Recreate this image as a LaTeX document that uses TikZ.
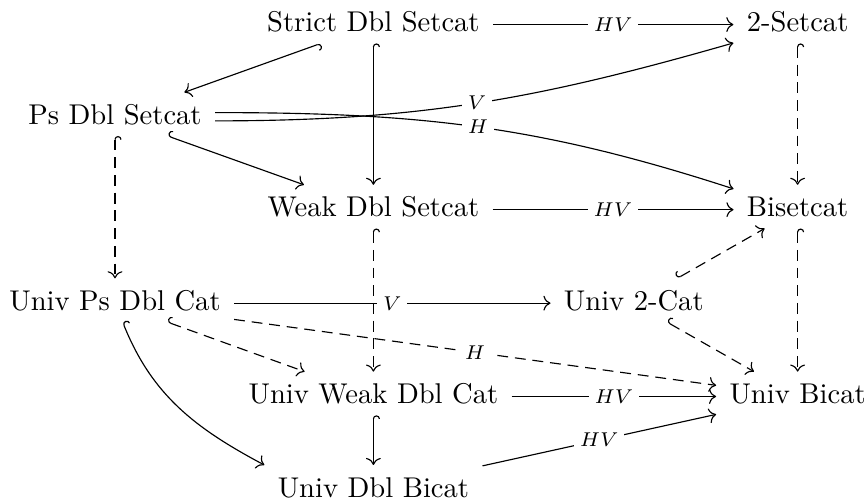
\documentclass[tikz,border=0pt]{standalone}
\usetikzlibrary{arrows.meta,cd}
\begin{document}
\begin{tikzpicture}[x=0.35pt,y=-0.35pt,
  obj/.style={shape=asymmetrical rectangle, anchor=base, text height=7.5pt,
    text depth=0.4pt, inner xsep=4.5pt, inner ysep=3.5pt},
  lbl/.style={fill=white, inner sep=2pt, font=\scriptsize, anchor=center},
  map/.style={-{To}},
  inc/.style={{Hooks[right]}-{To}},
  dsh/.style={dash pattern=on 3.8pt off 2.4pt}]
\useasboundingbox (0,0) rectangle (868,501);

% objects
\node[obj] (strict) at (373.4,31.7)  {Strict Dbl Setcat};
\node[obj] (two)    at (797.6,31.7)  {2-Setcat};
\node[obj] (ps)     at (115,124.3)   {Ps Dbl Setcat};
\node[obj] (weak)   at (373.4,216.8) {Weak Dbl Setcat};
\node[obj] (bis)    at (797.6,216.8) {Bisetcat};
\node[obj] (ups)    at (115,310.3)   {Univ Ps Dbl Cat};
\node[obj] (utwo)   at (633.8,310.3) {Univ 2-Cat};
\node[obj] (uweak)  at (373.4,403.6) {Univ Weak Dbl Cat};
\node[obj] (ubi)    at (797.6,403.6) {Univ Bicat};
\node[obj] (udbl)   at (373.4,497)   {Univ Dbl Bicat};

% maps out of the strict level
\draw[map] (strict) -- node[lbl] {$HV$} (two);
\draw[inc] (strict) -- (ps);
\draw[map] ([yshift=-1.3pt]ps.east) to[out=0,in=196] node[lbl] {$V$} (two);
\draw[map] ([yshift=1.6pt]ps.east) to[out=0,in=162] node[lbl] {$H$} (bis);
\draw[inc] (strict) -- (weak);
\draw[inc] (ps) -- (weak);
\draw[inc,dsh] (ps) -- (ups);
\draw[inc,dsh] (two) -- (bis);
\draw[map] (weak) -- node[lbl] {$HV$} (bis);

% universal level
\draw[map] (ups) -- node[lbl] {$V$} (utwo);
\draw[inc,dsh] (weak) -- (uweak);
\draw[inc,dsh] (bis) -- (ubi);
\draw[inc,dsh] (utwo) -- (bis);
\draw[inc,dsh] (ups) -- (uweak);
\draw[map,dsh] (ups) -- node[lbl] {$H$} (ubi);
\draw[inc] (ups) to[out=-68,in=152] (udbl.north west);
\draw[inc,dsh] (utwo) -- (ubi);
\draw[map] (uweak) -- node[lbl] {$HV$} (ubi);
\draw[inc] (uweak) -- (udbl);
\draw[map] (udbl) -- node[lbl] {$HV$} (ubi);
\end{tikzpicture}
\end{document}
